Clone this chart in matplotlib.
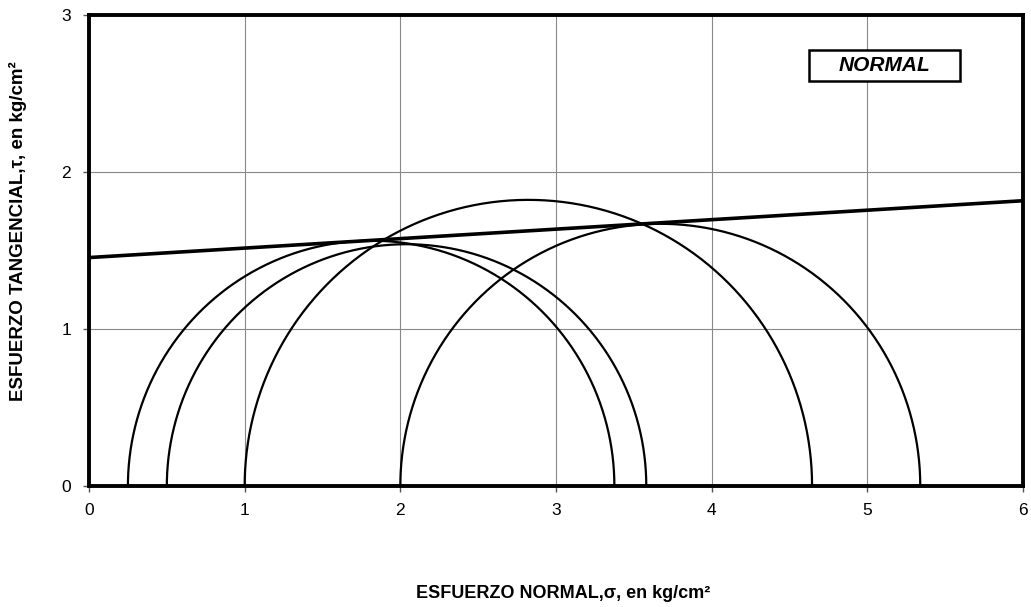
import numpy as np
import matplotlib
matplotlib.use("Agg")
import matplotlib.pyplot as plt
from matplotlib.patches import Rectangle

plt.rcParams['font.family'] = ['Liberation Sans', 'DejaVu Sans']

# Mohr circles: (sigma3, sigma1)
sigma3 = [0.25, 0.5, 1.0, 2.0]
sigma1 = [3.375, 3.58, 4.645, 5.34]
# Failure envelope
env_x = [0, 6]
env_y = [1.455, 1.817]

xticks = [0, 1, 2, 3, 4, 5, 6]
yticks = [0, 1, 2, 3]

fig = plt.figure(figsize=(10.31, 6.07), dpi=100)
ax = fig.add_axes([89/1031, 121/607, 934/1031, 471/607])

ax.set_xlim(0, 6)
ax.set_ylim(0, 3)
ax.set_xticks(xticks)
ax.set_yticks(yticks)
ax.grid(True, color='#888888', linewidth=0.8)
ax.set_axisbelow(True)

theta = np.linspace(0, np.pi, 400)
for s3, s1 in zip(sigma3, sigma1):
    c = (s1 + s3) / 2
    r = (s1 - s3) / 2
    ax.plot(c + r * np.cos(theta), r * np.sin(theta), color='black', lw=1.6, clip_on=False)

ax.plot(env_x, env_y, color='black', lw=2.6)

for sp in ax.spines.values():
    sp.set_linewidth(2.8)
ax.tick_params(axis='both', labelsize=12.5, length=4, width=1, color='#555555')
ax.tick_params(axis='x', pad=8)
ax.tick_params(axis='y', pad=9)

fig.text(563/1031, (607-594)/607, 'ESFUERZO NORMAL,σ, en kg/cm²', fontsize=13, fontweight='bold',
         ha='center', va='center')
fig.text(18/1031, (607-231)/607, 'ESFUERZO TANGENCIAL,τ, en kg/cm²', fontsize=13.5, fontweight='bold',
         ha='center', va='center', rotation=90)

# Label box
ax.add_patch(Rectangle((4.625, 2.58), 0.97, 0.195, facecolor='white', edgecolor='black',
                       linewidth=1.8, zorder=5))
ax.text(5.11, 2.677, 'NORMAL', fontsize=15, fontweight='bold', fontstyle='italic',
        ha='center', va='center', zorder=6)

fig.savefig('out.png', dpi=100)
